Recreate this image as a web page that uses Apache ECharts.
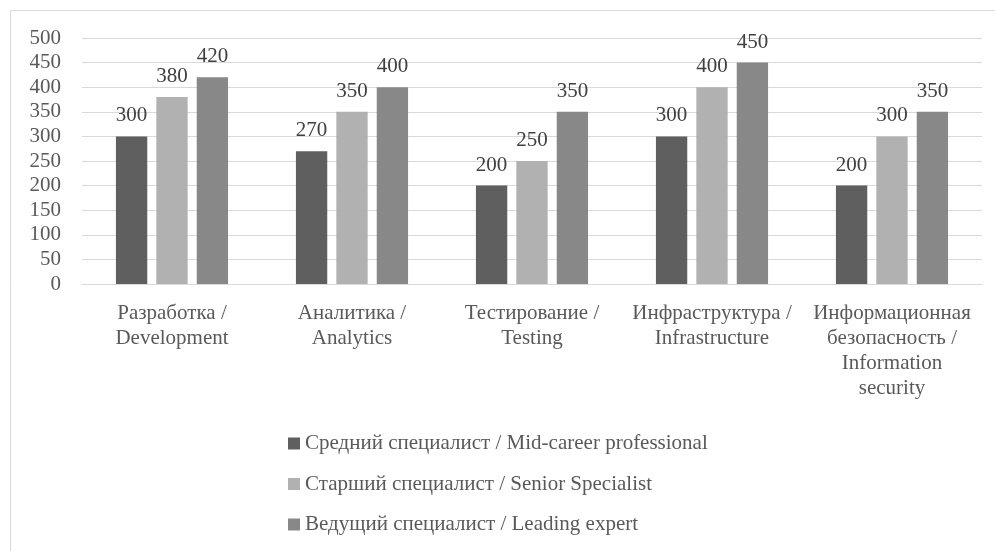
<!DOCTYPE html>
<html>
<head>
<meta charset="utf-8">
<script src="https://cdn.jsdelivr.net/npm/echarts@6/dist/echarts.min.js"></script>
<style>
html,body{margin:0;padding:0;background:#fff;}
#main{width:995px;height:551px;}
</style>
</head>
<body>
<div id="main"></div>
<script>
var categories = [
  "Разработка /\nDevelopment",
  "Аналитика /\nAnalytics",
  "Тестирование /\nTesting",
  "Инфраструктура /\nInfrastructure",
  "Информационная\nбезопасность /\nInformation\nsecurity"
];
var seriesNames = [
  "Средний специалист / Mid-career professional",
  "Старший специалист / Senior Specialist",
  "Ведущий специалист / Leading expert"
];
var midCareer = [300, 270, 200, 300, 200];
var senior = [380, 350, 250, 400, 300];
var leading = [420, 400, 350, 450, 350];
var yTicks = [0, 50, 100, 150, 200, 250, 300, 350, 400, 450, 500];

var FONT = '"Liberation Serif", "Times New Roman", serif';
var colors = ['#5f5f5f', '#b1b1b1', '#888888'];
var values = [midCareer, senior, leading];

var chart = echarts.init(document.getElementById('main'), null, {renderer: 'canvas'});
var series = values.map(function (v, i) {
  return {
    name: seriesNames[i],
    type: 'bar',
    data: v,
    barWidth: '17.4%',
    barGap: '29%',
    itemStyle: {color: colors[i]},
    label: {
      show: true,
      position: 'top',
      distance: 10,
      color: '#404040',
      fontFamily: FONT,
      fontSize: 21
    }
  };
});

chart.setOption({
  animation: false,
  color: colors,
  graphic: [{
    type: 'rect',
    shape: {x: 10.5, y: 10.5, width: 1000, height: 600},
    style: {fill: 'none', stroke: '#d9d9d9', lineWidth: 1},
    silent: true,
    z: -10
  }],
  grid: {left: 82, right: 13, top: 38, bottom: 267, containLabel: false},
  xAxis: {
    type: 'category',
    data: categories,
    axisTick: {show: false},
    axisLine: {show: true, lineStyle: {color: '#d9d9d9', width: 1}},
    axisLabel: {
      interval: 0,
      margin: 17,
      color: '#595959',
      fontFamily: FONT,
      fontSize: 21,
      lineHeight: 25
    }
  },
  yAxis: {
    type: 'value',
    min: yTicks[0],
    max: yTicks[yTicks.length - 1],
    interval: yTicks[1] - yTicks[0],
    axisLine: {show: false},
    axisTick: {show: false},
    splitLine: {lineStyle: {color: '#d9d9d9', width: 1}},
    axisLabel: {
      margin: 21,
      color: '#595959',
      fontFamily: FONT,
      fontSize: 21
    }
  },
  legend: {
    orient: 'vertical',
    left: 283,
    top: 428,
    itemWidth: 12,
    itemHeight: 12,
    itemGap: 19.5,
    icon: 'rect',
    textStyle: {
      color: '#595959',
      fontFamily: FONT,
      fontSize: 21,
      lineHeight: 20
    },
    data: seriesNames
  },
  series: series
});
</script>
</body>
</html>
